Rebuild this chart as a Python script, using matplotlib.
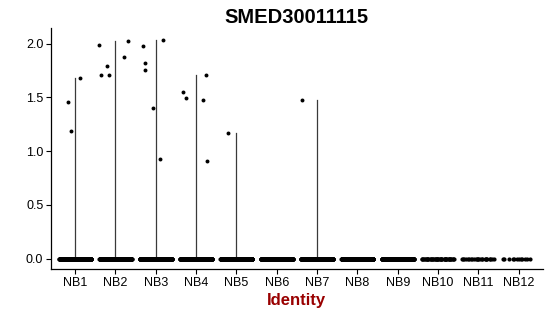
import numpy as np
import matplotlib
matplotlib.use("Agg")
import matplotlib.pyplot as plt

plt.rcParams['font.family'] = ['Liberation Sans', 'DejaVu Sans']

# ---- data ----
groups = ["NB1", "NB2", "NB3", "NB4", "NB5", "NB6", "NB7", "NB8", "NB9", "NB10", "NB11", "NB12"]
# estimated number of cells with zero expression per group
zero_counts = [300, 300, 300, 300, 300, 220, 300, 280, 200, 45, 24, 12]
# non-zero expression values per group
nonzero_values = {
    "NB1": [1.46, 1.19, 1.68],
    "NB2": [1.99, 1.71, 1.79, 1.71, 1.875, 2.025],
    "NB3": [1.98, 1.82, 1.75, 1.40, 0.926, 2.035],
    "NB4": [1.55, 1.49, 1.476, 1.71, 0.907],
    "NB5": [1.164],
    "NB7": [1.474],
}
# horizontal jitter of the non-zero points (in category units)
nonzero_jitter = {
    "NB1": [-0.18, -0.10, 0.13],
    "NB2": [-0.40, -0.37, -0.20, -0.15, 0.22, 0.32],
    "NB3": [-0.31, -0.28, -0.27, -0.08, 0.11, 0.19],
    "NB4": [-0.33, -0.26, 0.18, 0.24, 0.27],
    "NB5": [-0.22],
    "NB7": [-0.38],
}

title = "SMED30011115"
xlabel = "Identity"
yticks = [0.0, 0.5, 1.0, 1.5, 2.0]

# ---- figure ----
fig = plt.figure(figsize=(5.5, 3.16), dpi=100)
ax = fig.add_axes([0.0927, 0.148, 0.8943, 0.762])

golden = 0.6180339887
for i, g in enumerate(groups):
    xc = i + 1
    vals = list(nonzero_values.get(g, []))
    jit = list(nonzero_jitter.get(g, []))
    # violin (degenerate: thin line from 0 to max)
    vmax = max([0.0] + vals)
    if vmax > 0:
        ax.plot([xc, xc], [0, vmax], color="#3a3a3a", lw=0.9, zorder=1)
    # zero cells, spread within jitter width
    n = zero_counts[i]
    offs = ((np.arange(n) * golden + 0.13 * (np.arange(n) % 3)) % 1.0) * 0.8 - 0.4
    ax.scatter(xc + offs, np.zeros(n), s=9, color="black", linewidths=0, zorder=3)
    # non-zero cells
    if vals:
        ax.scatter([xc + j for j in jit], vals, s=8, color="black", linewidths=0, zorder=3)

ax.set_xlim(0.4, 12.6)
ax.set_ylim(-0.098, 2.14)
ax.set_xticks(range(1, len(groups) + 1))
ax.set_xticklabels(groups, fontsize=9)
ax.set_yticks(yticks)
ax.set_yticklabels([f"{t:.1f}" for t in yticks], fontsize=9)
ax.tick_params(length=3.5, width=0.8, color="black", pad=2)
for s in ["top", "right"]:
    ax.spines[s].set_visible(False)
for s in ["left", "bottom"]:
    ax.spines[s].set_linewidth(0.9)
ax.set_xlabel(xlabel, fontsize=12, fontweight="bold", color="#990000", labelpad=3)
ax.set_title(title, fontsize=14.5, fontweight="bold", pad=4)

fig.savefig("out.png", dpi=100)
